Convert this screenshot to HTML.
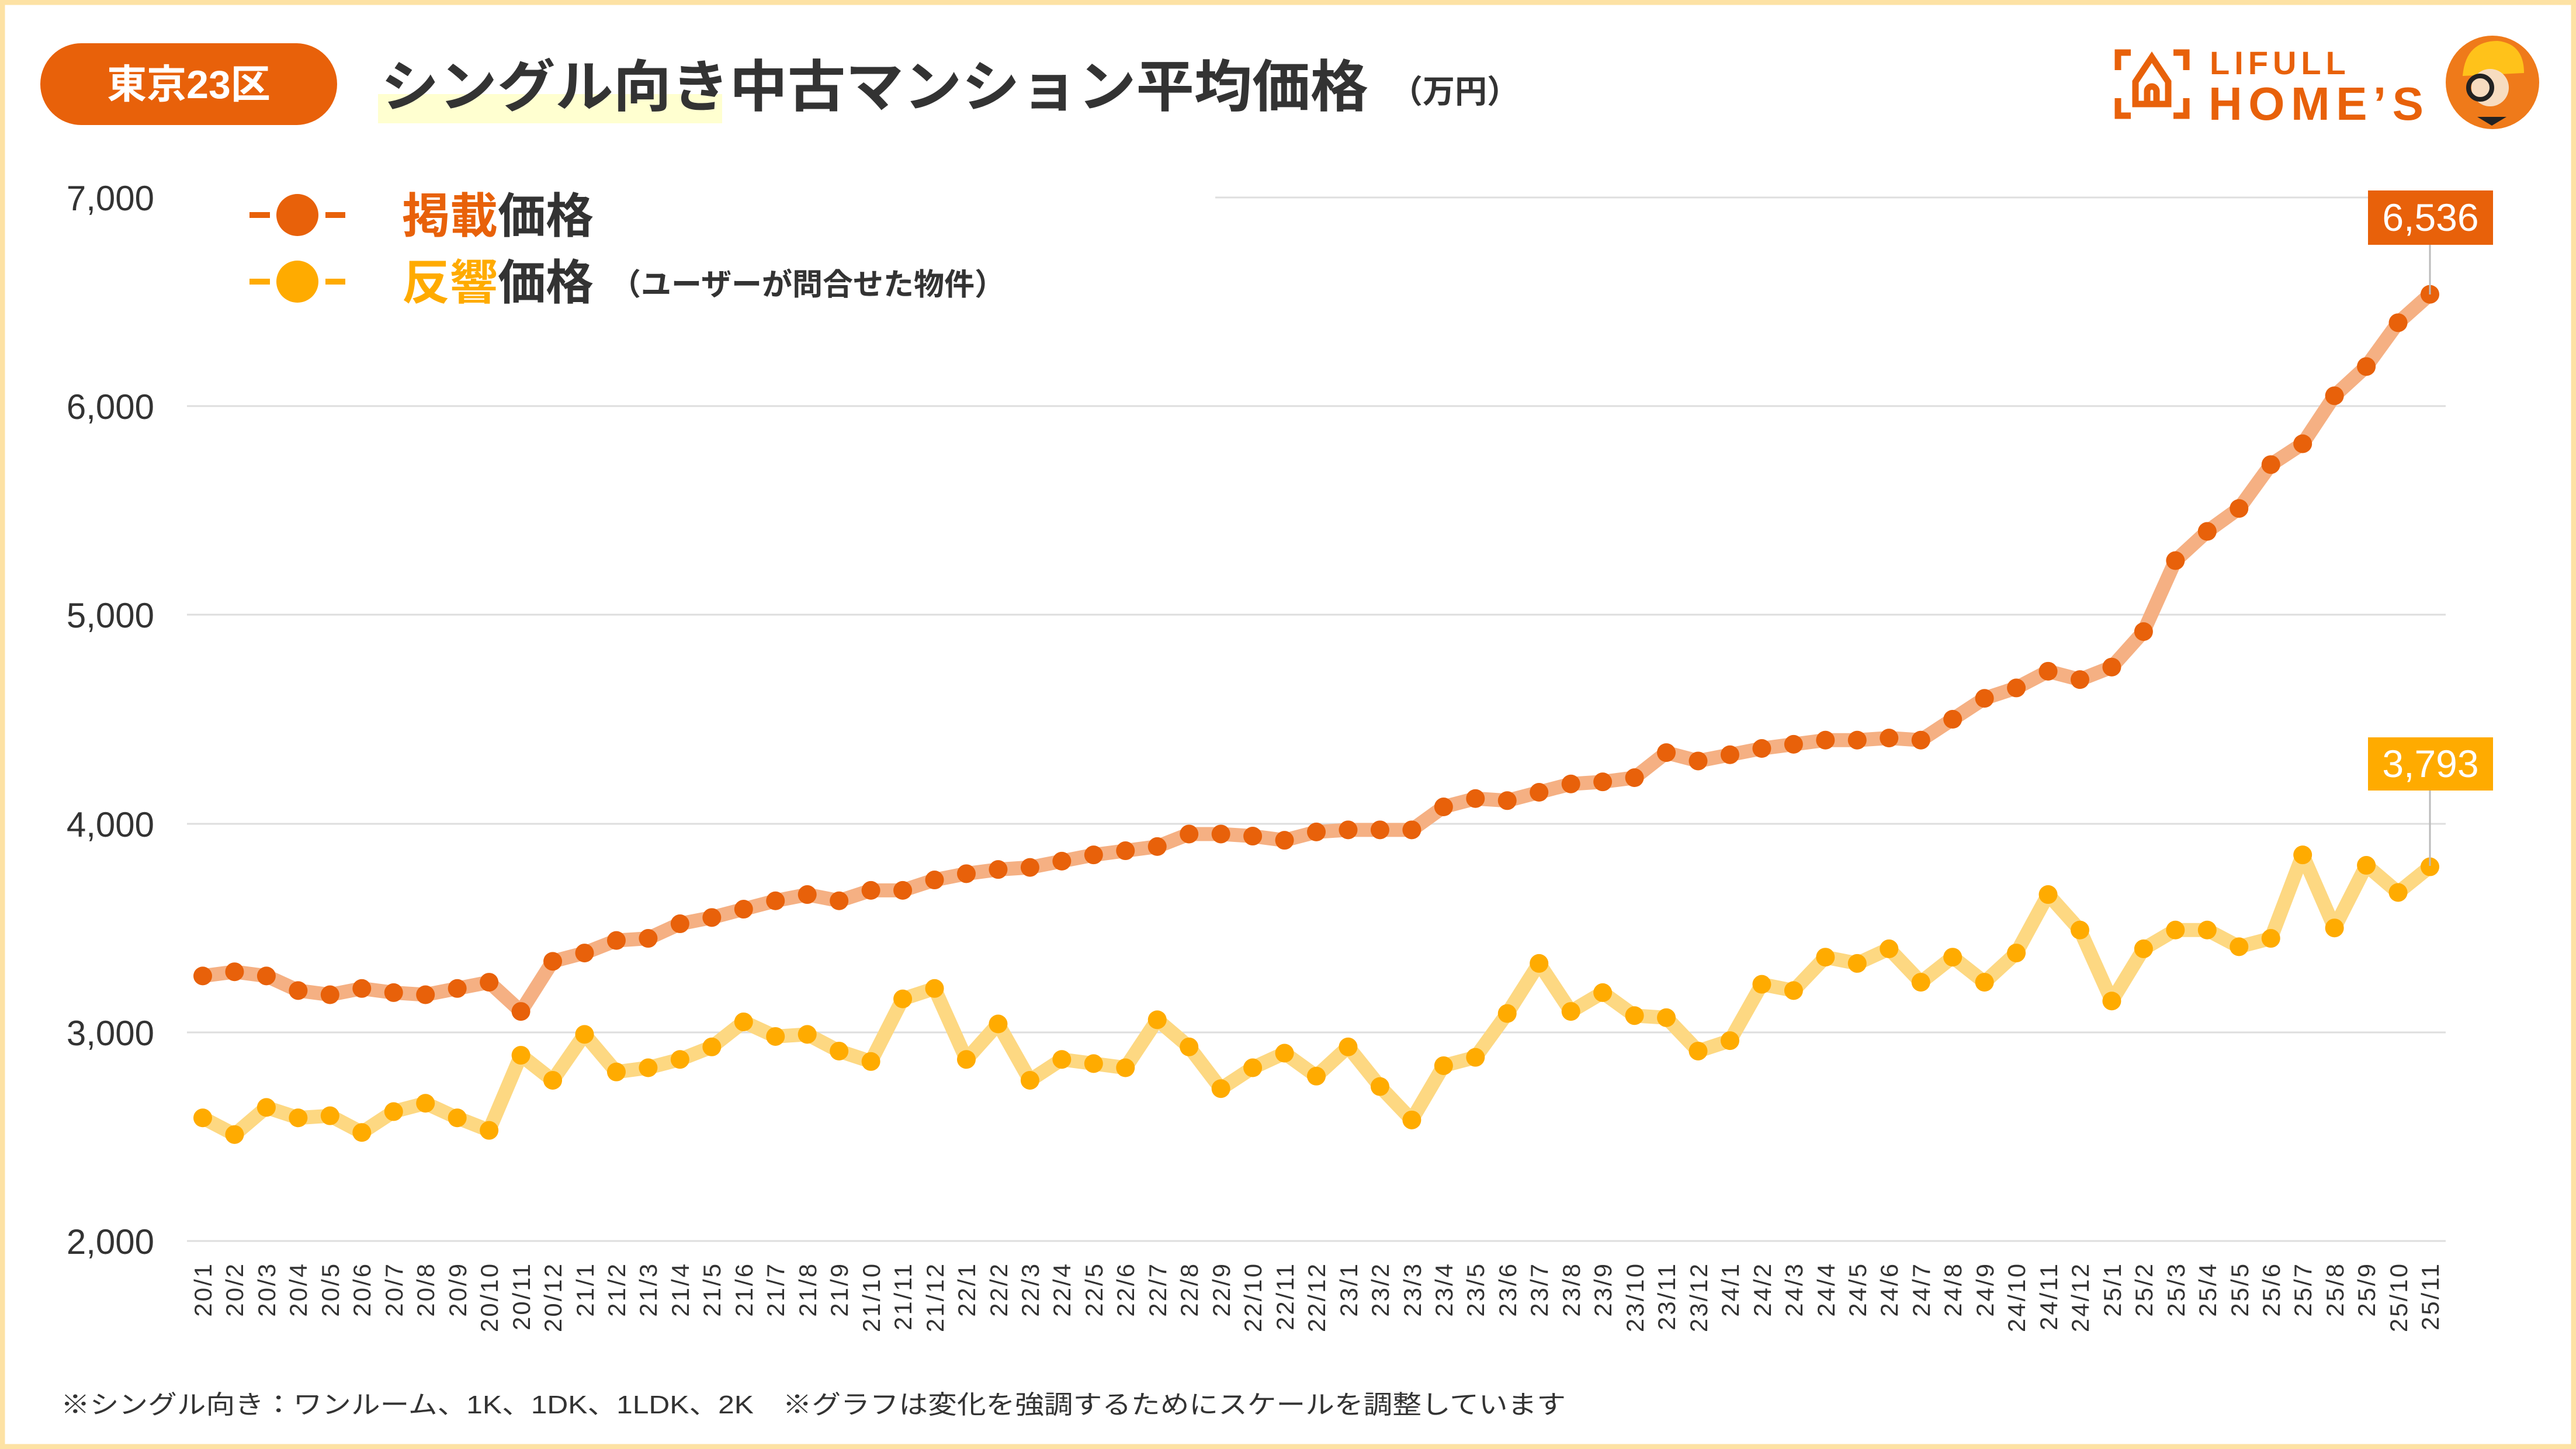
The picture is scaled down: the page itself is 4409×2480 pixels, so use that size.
<!DOCTYPE html>
<html><head><meta charset="utf-8"><style>
html,body{margin:0;padding:0;background:#fff;}
body{width:4409px;height:2480px;overflow:hidden;}
svg{display:block;font-family:"Liberation Sans","Noto Sans CJK JP",sans-serif;}
</style></head><body>
<svg width="4409" height="2480" viewBox="0 0 4409 2480" xmlns="http://www.w3.org/2000/svg">
<rect x="0" y="0" width="4409" height="2480" fill="#fff"/>
<rect x="4" y="4" width="4401" height="2472" fill="none" stroke="#fde2a4" stroke-width="9"/>

<!-- header -->
<rect x="69" y="74" width="508" height="140" rx="70" fill="#e8610a"/>
<text x="323" y="168" font-size="68" font-weight="bold" fill="#fff" text-anchor="middle">東京23区</text>
<rect x="647" y="161" width="589" height="50" fill="#ffffd0"/>
<text x="652" y="182" font-size="96" font-weight="bold" fill="#333" textLength="1690" lengthAdjust="spacingAndGlyphs">シングル向き中古マンション平均価格</text>
<text x="2380" y="176" font-size="55" font-weight="bold" fill="#333">（万円）</text>

<!-- logo -->
<g fill="none" stroke="#e8610a" stroke-width="11">
<path d="M3625 120v-30h22M3720 90h22v30M3625 168v30h22M3720 198h22v-30"/>
<path d="M3655 178v-38l28-42 28 42v38z"/>
<path d="M3675 178v-22a8 8 0 0 1 16 0v22"/>
</g>
<text x="3782" y="127" font-size="56" font-weight="bold" fill="#e8610a" letter-spacing="8">LIFULL</text>
<text x="3780" y="205" font-size="80" font-weight="bold" fill="#e8610a" textLength="368" lengthAdjust="spacing">HOME’S</text>
<circle cx="4266" cy="141" r="80" fill="#ef7a1a"/>
<path d="M4215 130q5-60 60-60q45 5 45 55z" fill="#ffc21a"/>
<circle cx="4262" cy="150" r="32" fill="#f7dcc0"/>
<circle cx="4245" cy="150" r="20" fill="none" stroke="#222" stroke-width="8"/>
<path d="M4240 200l25 15 25-15z" fill="#222"/>

<!-- legend -->
<g stroke="#e8610a" stroke-width="10"><line x1="427" y1="368" x2="462" y2="368"/><line x1="557" y1="368" x2="591" y2="368"/></g>
<circle cx="509" cy="368" r="36" fill="#e8610a"/>
<g stroke="#ffab00" stroke-width="10"><line x1="427" y1="482" x2="462" y2="482"/><line x1="557" y1="482" x2="591" y2="482"/></g>
<circle cx="509" cy="482" r="36" fill="#ffab00"/>
<text x="688" y="398" font-size="82" font-weight="bold"><tspan fill="#e8610a">掲載</tspan><tspan fill="#333">価格</tspan></text>
<text x="688" y="512" font-size="82" font-weight="bold"><tspan fill="#ffab00">反響</tspan><tspan fill="#333">価格</tspan></text>
<text x="1045" y="505" font-size="52" font-weight="bold" fill="#333">（ユーザーが問合せた物件）</text>

<!-- grid -->
<g stroke="#dedede" stroke-width="3">
<line x1="2080" y1="338" x2="4186" y2="338"/>
<line x1="320" y1="695" x2="4186" y2="695"/>
<line x1="320" y1="1052" x2="4186" y2="1052"/>
<line x1="320" y1="1410" x2="4186" y2="1410"/>
<line x1="320" y1="1767" x2="4186" y2="1767"/>
<line x1="320" y1="2124" x2="4186" y2="2124"/>
</g>
<g font-size="60" fill="#333" text-anchor="end">
<text x="264" y="360">7,000</text>
<text x="264" y="717">6,000</text>
<text x="264" y="1074">5,000</text>
<text x="264" y="1432">4,000</text>
<text x="264" y="1789">3,000</text>
<text x="264" y="2146">2,000</text>
</g>

<!-- series -->
<svg x="347" y="338" width="3812" height="1786" viewBox="0 0 70 5000" preserveAspectRatio="none" overflow="visible">
<polyline fill="none" stroke="#f5b083" stroke-width="24" stroke-linejoin="round" vector-effect="non-scaling-stroke" points="0,3730 1,3710 2,3730 3,3800 4,3820 5,3790 6,3810 7,3820 8,3790 9,3760 10,3900 11,3660 12,3620 13,3560 14,3550 15,3480 16,3450 17,3410 18,3370 19,3340 20,3370 21,3320 22,3320 23,3270 24,3240 25,3220 26,3210 27,3180 28,3150 29,3130 30,3110 31,3050 32,3050 33,3060 34,3080 35,3040 36,3030 37,3030 38,3030 39,2920 40,2880 41,2890 42,2850 43,2810 44,2800 45,2780 46,2660 47,2700 48,2670 49,2640 50,2620 51,2600 52,2600 53,2590 54,2600 55,2500 56,2400 57,2350 58,2270 59,2310 60,2250 61,2080 62,1740 63,1600 64,1490 65,1280 66,1180 67,950 68,810 69,600 70,464"/>
<polyline fill="none" stroke="#fdd882" stroke-width="24" stroke-linejoin="round" vector-effect="non-scaling-stroke" points="0,4410 1,4490 2,4360 3,4410 4,4400 5,4480 6,4380 7,4340 8,4410 9,4470 10,4110 11,4230 12,4010 13,4190 14,4170 15,4130 16,4070 17,3950 18,4020 19,4010 20,4090 21,4140 22,3840 23,3790 24,4130 25,3960 26,4230 27,4130 28,4150 29,4170 30,3940 31,4070 32,4270 33,4170 34,4100 35,4210 36,4070 37,4260 38,4420 39,4160 40,4120 41,3910 42,3670 43,3900 44,3810 45,3920 46,3930 47,4090 48,4040 49,3770 50,3800 51,3640 52,3670 53,3600 54,3760 55,3640 56,3760 57,3620 58,3340 59,3510 60,3850 61,3600 62,3510 63,3510 64,3590 65,3550 66,3150 67,3500 68,3200 69,3330 70,3207"/>
<path fill="none" stroke="#e8610a" stroke-width="32" stroke-linecap="round" vector-effect="non-scaling-stroke" d="M0 3730h0M1 3710h0M2 3730h0M3 3800h0M4 3820h0M5 3790h0M6 3810h0M7 3820h0M8 3790h0M9 3760h0M10 3900h0M11 3660h0M12 3620h0M13 3560h0M14 3550h0M15 3480h0M16 3450h0M17 3410h0M18 3370h0M19 3340h0M20 3370h0M21 3320h0M22 3320h0M23 3270h0M24 3240h0M25 3220h0M26 3210h0M27 3180h0M28 3150h0M29 3130h0M30 3110h0M31 3050h0M32 3050h0M33 3060h0M34 3080h0M35 3040h0M36 3030h0M37 3030h0M38 3030h0M39 2920h0M40 2880h0M41 2890h0M42 2850h0M43 2810h0M44 2800h0M45 2780h0M46 2660h0M47 2700h0M48 2670h0M49 2640h0M50 2620h0M51 2600h0M52 2600h0M53 2590h0M54 2600h0M55 2500h0M56 2400h0M57 2350h0M58 2270h0M59 2310h0M60 2250h0M61 2080h0M62 1740h0M63 1600h0M64 1490h0M65 1280h0M66 1180h0M67 950h0M68 810h0M69 600h0M70 464h0"/>
<path fill="none" stroke="#ffab00" stroke-width="32" stroke-linecap="round" vector-effect="non-scaling-stroke" d="M0 4410h0M1 4490h0M2 4360h0M3 4410h0M4 4400h0M5 4480h0M6 4380h0M7 4340h0M8 4410h0M9 4470h0M10 4110h0M11 4230h0M12 4010h0M13 4190h0M14 4170h0M15 4130h0M16 4070h0M17 3950h0M18 4020h0M19 4010h0M20 4090h0M21 4140h0M22 3840h0M23 3790h0M24 4130h0M25 3960h0M26 4230h0M27 4130h0M28 4150h0M29 4170h0M30 3940h0M31 4070h0M32 4270h0M33 4170h0M34 4100h0M35 4210h0M36 4070h0M37 4260h0M38 4420h0M39 4160h0M40 4120h0M41 3910h0M42 3670h0M43 3900h0M44 3810h0M45 3920h0M46 3930h0M47 4090h0M48 4040h0M49 3770h0M50 3800h0M51 3640h0M52 3670h0M53 3600h0M54 3760h0M55 3640h0M56 3760h0M57 3620h0M58 3340h0M59 3510h0M60 3850h0M61 3600h0M62 3510h0M63 3510h0M64 3590h0M65 3550h0M66 3150h0M67 3500h0M68 3200h0M69 3330h0M70 3207h0"/>
</svg>

<!-- value labels -->
<line x1="4159" y1="419" x2="4159" y2="504" stroke="#bbb" stroke-width="3"/>
<rect x="4053" y="326" width="214" height="93" fill="#e8610a"/>
<text x="4160" y="395" font-size="66" fill="#fff" text-anchor="middle">6,536</text>
<line x1="4159" y1="1353" x2="4159" y2="1482" stroke="#bbb" stroke-width="3"/>
<rect x="4053" y="1262" width="214" height="91" fill="#ffab00"/>
<text x="4160" y="1330" font-size="66" fill="#fff" text-anchor="middle">3,793</text>

<!-- x labels -->
<g transform="rotate(-90)" font-size="42" fill="#333" text-anchor="end" letter-spacing="3">
<text x="-2160" y="362">20/1</text><text x="-2160" y="416">20/2</text><text x="-2160" y="471">20/3</text><text x="-2160" y="525">20/4</text><text x="-2160" y="580">20/5</text><text x="-2160" y="634">20/6</text><text x="-2160" y="689">20/7</text><text x="-2160" y="743">20/8</text><text x="-2160" y="798">20/9</text><text x="-2160" y="852">20/10</text><text x="-2160" y="907">20/11</text><text x="-2160" y="961">20/12</text>
<text x="-2160" y="1016">21/1</text><text x="-2160" y="1070">21/2</text><text x="-2160" y="1124">21/3</text><text x="-2160" y="1179">21/4</text><text x="-2160" y="1233">21/5</text><text x="-2160" y="1288">21/6</text><text x="-2160" y="1342">21/7</text><text x="-2160" y="1397">21/8</text><text x="-2160" y="1451">21/9</text><text x="-2160" y="1506">21/10</text><text x="-2160" y="1560">21/11</text><text x="-2160" y="1615">21/12</text>
<text x="-2160" y="1669">22/1</text><text x="-2160" y="1724">22/2</text><text x="-2160" y="1778">22/3</text><text x="-2160" y="1832">22/4</text><text x="-2160" y="1887">22/5</text><text x="-2160" y="1941">22/6</text><text x="-2160" y="1996">22/7</text><text x="-2160" y="2050">22/8</text><text x="-2160" y="2105">22/9</text><text x="-2160" y="2159">22/10</text><text x="-2160" y="2214">22/11</text><text x="-2160" y="2268">22/12</text>
<text x="-2160" y="2323">23/1</text><text x="-2160" y="2377">23/2</text><text x="-2160" y="2432">23/3</text><text x="-2160" y="2486">23/4</text><text x="-2160" y="2540">23/5</text><text x="-2160" y="2595">23/6</text><text x="-2160" y="2649">23/7</text><text x="-2160" y="2704">23/8</text><text x="-2160" y="2758">23/9</text><text x="-2160" y="2813">23/10</text><text x="-2160" y="2867">23/11</text><text x="-2160" y="2922">23/12</text>
<text x="-2160" y="2976">24/1</text><text x="-2160" y="3031">24/2</text><text x="-2160" y="3085">24/3</text><text x="-2160" y="3140">24/4</text><text x="-2160" y="3194">24/5</text><text x="-2160" y="3248">24/6</text><text x="-2160" y="3303">24/7</text><text x="-2160" y="3357">24/8</text><text x="-2160" y="3412">24/9</text><text x="-2160" y="3466">24/10</text><text x="-2160" y="3521">24/11</text><text x="-2160" y="3575">24/12</text>
<text x="-2160" y="3630">25/1</text><text x="-2160" y="3684">25/2</text><text x="-2160" y="3739">25/3</text><text x="-2160" y="3793">25/4</text><text x="-2160" y="3848">25/5</text><text x="-2160" y="3902">25/6</text><text x="-2160" y="3956">25/7</text><text x="-2160" y="4011">25/8</text><text x="-2160" y="4065">25/9</text><text x="-2160" y="4120">25/10</text><text x="-2160" y="4174">25/11</text>
</g>

<!-- footer -->
<text x="104" y="2419" font-size="44" fill="#333" textLength="2576" lengthAdjust="spacingAndGlyphs">※シングル向き：ワンルーム、1K、1DK、1LDK、2K　※グラフは変化を強調するためにスケールを調整しています</text>
</svg>
</body></html>
